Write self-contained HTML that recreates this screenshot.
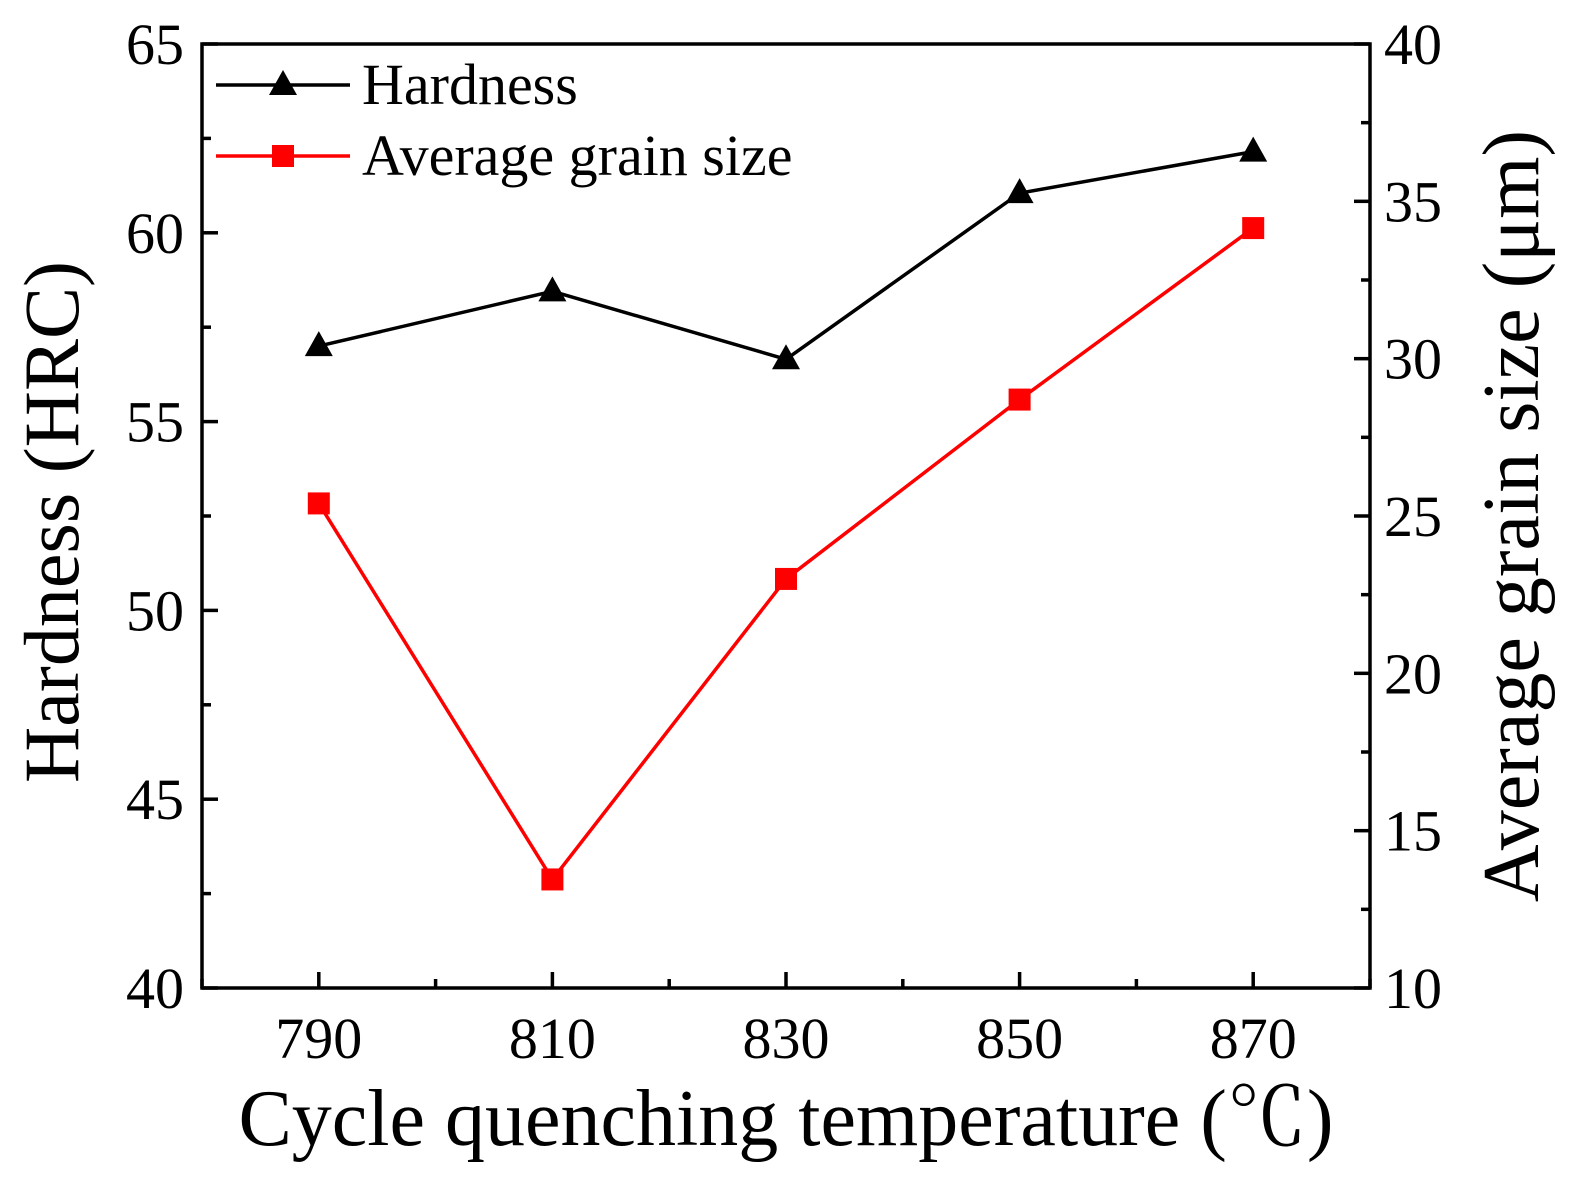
<!DOCTYPE html>
<html><head><meta charset="utf-8"><style>
html,body{margin:0;padding:0;background:#fff}
svg text{font-family:"Liberation Serif","Noto Serif CJK SC",serif;fill:#000}
</style></head><body>
<svg id="chart" width="1592" height="1192" viewBox="0 0 1592 1192" xmlns="http://www.w3.org/2000/svg">
<g id="g"></g>
</svg>
<script>
const categories=[790,810,830,850,870];
const hardness=[57.0,58.45,56.65,61.05,62.15];
const grainSize=[25.4,13.45,23.0,28.7,34.15];
const xTicks=[790,810,830,850,870];
const yLeftTicks=[40,45,50,55,60,65];
const yRightTicks=[10,15,20,25,30,35,40];

const L=202,R=1370,T=44,B=988;
const xS=v=>L+(v-780)/100*(R-L);
const yL=v=>B-(v-40)/25*(B-T);
const yR=v=>B-(v-10)/30*(B-T);
const NS='http://www.w3.org/2000/svg';
const g=document.getElementById('g');
function mk(tag,attrs,name,parent){const e=document.createElementNS(NS,tag);for(const k in attrs)e.setAttribute(k,attrs[k]);


(parent||g).appendChild(e);return e;}
function txt(x,y,s,size,anchor,name,extra){const e=mk('text',Object.assign({x:x,y:y,'font-size':size,'text-anchor':anchor},extra||{}),name);e.textContent=s;return e;}

mk('rect',{x:L,y:T,width:R-L,height:B-T,fill:'none',stroke:'#000','stroke-width':3.5},'plot-frame');
for(let v=780;v<=880;v+=10){const x=xS(v);const major=xTicks.includes(v);
mk('line',{x1:x,x2:x,y1:B,y2:B-(major?16:9),stroke:'#000','stroke-width':3.5},'x-tick');}
xTicks.forEach(v=>txt(xS(v),1058,String(v),58,'middle','x-tick-label'));
for(let v=40;v<=65;v+=2.5){const y=yL(v);const major=v%5===0;
mk('line',{x1:L,x2:L+(major?16:9),y1:y,y2:y,stroke:'#000','stroke-width':3.5},'y-left-tick');}
yLeftTicks.forEach(v=>txt(184,yL(v)+20,String(v),58,'end','y-left-tick-label'));
for(let v=10;v<=40;v+=2.5){const y=yR(v);const major=v%5===0;
mk('line',{x1:R,x2:R-(major?16:9),y1:y,y2:y,stroke:'#000','stroke-width':3.5},'y-right-tick');}
yRightTicks.forEach(v=>txt(1384,yR(v)+20,String(v),58,'start','y-right-tick-label'));
txt(786,1145,'Cycle quenching temperature (℃)',80,'middle','x-axis-title');
txt(0,0,'Hardness (HRC)',78,'middle','y-left-axis-title',{transform:'translate(78,522) rotate(-90)'});
txt(0,0,'Average grain size (μm)',80,'middle','y-right-axis-title',{transform:'translate(1538,516) rotate(-90)'});
const hp=categories.map((c,i)=>xS(c)+','+yL(hardness[i])).join(' ');
mk('polyline',{points:hp,fill:'none',stroke:'#000','stroke-width':3.5},'hardness-line');
categories.forEach((c,i)=>{const x=xS(c),y=yL(hardness[i]);
mk('polygon',{points:`${x},${y-15} ${x-14},${y+10} ${x+14},${y+10}`,fill:'#000'},'hardness-point');});
const gp=categories.map((c,i)=>xS(c)+','+yR(grainSize[i])).join(' ');
mk('polyline',{points:gp,fill:'none',stroke:'#f00','stroke-width':3.5},'grain-size-line');
categories.forEach((c,i)=>{const x=xS(c),y=yR(grainSize[i]);
mk('rect',{x:x-11,y:y-11,width:22,height:22,fill:'#f00'},'grain-size-point');});
mk('line',{x1:216,x2:350,y1:85,y2:85,stroke:'#000','stroke-width':3.5},'legend-hardness-line');
mk('polygon',{points:'283,70 269,95 297,95',fill:'#000'},'legend-hardness-marker');
txt(362,104,'Hardness',58,'start','legend-hardness-label');
mk('line',{x1:216,x2:350,y1:156,y2:156,stroke:'#f00','stroke-width':3.5},'legend-grain-line');
mk('rect',{x:272,y:145,width:22,height:22,fill:'#f00'},'legend-grain-marker');
txt(362,175,'Average grain size',58,'start','legend-grain-label');
</script>
</body></html>
